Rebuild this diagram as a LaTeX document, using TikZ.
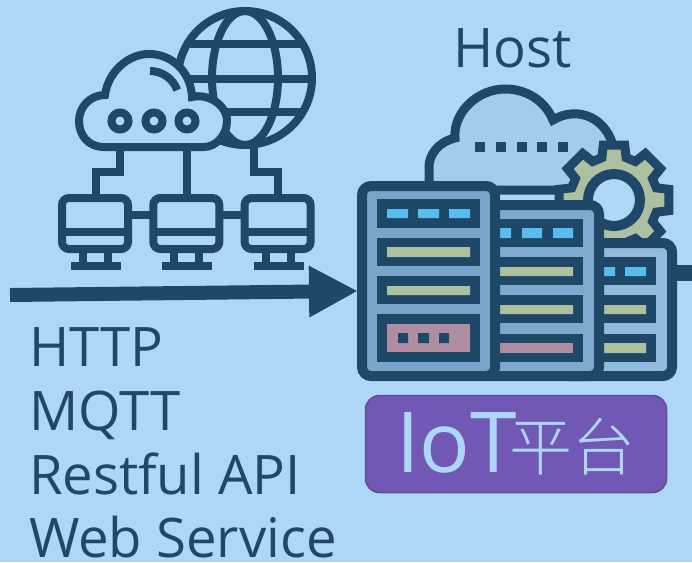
\documentclass[tikz,border=0pt]{standalone}
\usepackage{fontspec}
\setmainfont{Open Sans}
\newfontfamily\cjkfont{Noto Sans CJK TC Light}
\usetikzlibrary{arrows.meta}
\definecolor{bgc}{HTML}{ADD6F7}
\definecolor{dk}{HTML}{1F4767}
\definecolor{cloudc}{HTML}{A3CCEA}
\definecolor{srva}{HTML}{7AA5CB}
\definecolor{srvb}{HTML}{7FAAD0}
\definecolor{srvc}{HTML}{92BADD}
\definecolor{cellb}{HTML}{58BDEE}
\definecolor{cellg}{HTML}{ADC1A0}
\definecolor{cellp}{HTML}{B08EA2}
\definecolor{purp}{HTML}{7158B5}
\tikzset{
  ico/.style={draw=dk,line width=8pt,line join=miter},
  srv/.style={draw=dk,line width=10pt,rounded corners=9pt},
  lbl/.style={text=dk,anchor=base west,inner sep=0pt,outer sep=0pt,font=\fontsize{54.5}{64}\selectfont},
}
\newcommand{\screen}[1]{%
  \begin{scope}[xshift=#1pt]
    \draw[ico,rounded corners=7pt,fill=bgc] (62,198) rectangle (128,249);
    \draw[ico] (62,232) -- (128,232);
    \draw[ico] (83,249) -- (83,266) (108,249) -- (108,266);
    \draw[ico] (71,266) -- (121,266);
  \end{scope}}
\begin{document}
\begin{tikzpicture}[x=1pt,y=-1pt]
\useasboundingbox (0,0) rectangle (692,562);
\fill[bgc] (0,0) rectangle (692,562);
\clip (0,0) rectangle (692,562);
% globe
\draw[ico] (245,78) circle[radius=67];
\draw[ico] (245,78) ellipse[x radius=33,y radius=67];
\draw[ico] (190,44) -- (300,44) (180,79) -- (310,79) (190,112) -- (300,112);
% connectors of network icon
\draw[ico] (120,148) -- (120,172) -- (96,172) -- (96,196);
\draw[ico] (187,148) -- (187,196);
\draw[ico] (254,148) -- (254,172) -- (278,172) -- (278,196);
\draw[ico] (128,215) -- (150,215) (219,215) -- (241,215);
% cloud
\draw[ico,fill=bgc] (104,147) .. controls (88,147) and (79,135) .. (79,121)
  .. controls (79,107) and (90,95) .. (105,95)
  .. controls (108,72) and (128,54) .. (149,54)
  .. controls (172,54) and (191,72) .. (192,97)
  .. controls (208,93) and (227,105) .. (227,121)
  .. controls (227,136) and (215,147) .. (204,147) -- cycle;
\draw[ico] (150,71) arc[start angle=-90,end angle=-20,radius=29];
\foreach \cx in {120,154,187} \draw[ico] (\cx,121) circle[radius=8.5];
\screen{0}\screen{91.3}\screen{182.6}
% big arrow
\coordinate (src) at (10,295);
\coordinate (tip) at (358,291);
\draw[draw=dk,line width=14pt,-{Triangle[length=49pt,width=48pt]}] (src) -- (tip);
% host cloud
\draw[draw=dk,line width=9pt,fill=cloudc] (429,190) -- (429,167)
  .. controls (429,155) and (438,142) .. (455,138)
  .. controls (453,112) and (478,89) .. (505,89)
  .. controls (527,89) and (545,101) .. (553,120)
  .. controls (578,105) and (608,118) .. (614,150) -- (614,190) -- cycle;
\foreach \x in {475,495.7,516.7,537,558} \fill[dk] (\x,142) rectangle +(10,10);
% gear
\draw[draw=dk,line width=9pt,fill=cellg,line join=miter]
  (614,200) ++(-11:56)
  \foreach \a in {0,45,...,315} {
    -- ([shift={(614,200)}]\a-11:56) -- ([shift={(614,200)}]\a+11:56)
    -- ([shift={(614,200)}]\a+16:44) -- ([shift={(614,200)}]\a+29:44)
  } -- cycle;
\draw[draw=dk,line width=10pt,fill=bgc] (614,200) circle[radius=26];
% right stub
\coordinate (outa) at (668,273);
\coordinate (outb) at (692,273);
\draw[draw=dk,line width=16pt] (outa) -- (outb);
% server 3
\draw[srv,fill=srvc] (560,243) rectangle (672,376);
\foreach \ya/\yb in {257/285,295/323,334/362} \fill[dk] (590,\ya) rectangle (656,\yb);
\fill[cellb] (604,267) rectangle (615,276) (625,267) rectangle (646,276);
\fill[cellg] (595,305) rectangle (646,314) (595,343) rectangle (646,353);
% server 2
\draw[srv,fill=srvb] (480,205) rectangle (599,376);
\foreach \ya/\yb in {219/247,257/285,295/323,334/362} \fill[dk] (490,\ya) rectangle (583,\yb);
\fill[cellb] (495,228) rectangle (511,238) (522,228) rectangle (542,238) (553,228) rectangle (573,238);
\fill[cellg] (495,267) rectangle (573,276) (495,305) rectangle (573,314);
\fill[cellp] (495,343) rectangle (573,353);
% server 1
\draw[srv,fill=srva] (362,186) rectangle (495,376);
\foreach \ya/\yb in {199/228,238/266,276/304,314/362} \fill[dk] (377,\ya) rectangle (480,\yb);
\fill[cellb] (387,209) rectangle (408,218) (418,209) rectangle (439,218) (449,209) rectangle (470,218);
\fill[cellg] (387,247) rectangle (470,257) (387,286) rectangle (470,295);
\fill[cellp] (387,324) rectangle (470,352);
\fill[dk] (398,333) rectangle (408,343) (418,333) rectangle (429,343) (439,333) rectangle (449,343);
% purple box
\node[draw=purp!85!black,line width=1.5pt,fill=purp,rounded corners=14pt,minimum width=301pt,minimum height=97pt,inner sep=0pt] (plat) at (516,444) {};
\node[text=bgc,inner sep=0pt,anchor=base west,font=\fontsize{84}{94}\selectfont] (iot) at (396,472) {IoT};
\node[text=bgc,inner sep=0pt,anchor=base west,font=\fontsize{63}{72}\selectfont\cjkfont] (ptf) at (509,470) {平台};
% labels
\node[lbl] (host) at (453,67) {Host};
\node[lbl] (l1) at (29,366) {HTTP};
\node[lbl] (l2) at (29,430) {MQTT};
\node[lbl] (l3) at (29,494) {Restful API};
\node[lbl] (l4) at (29,557) {Web Service};
\end{tikzpicture}
\end{document}
